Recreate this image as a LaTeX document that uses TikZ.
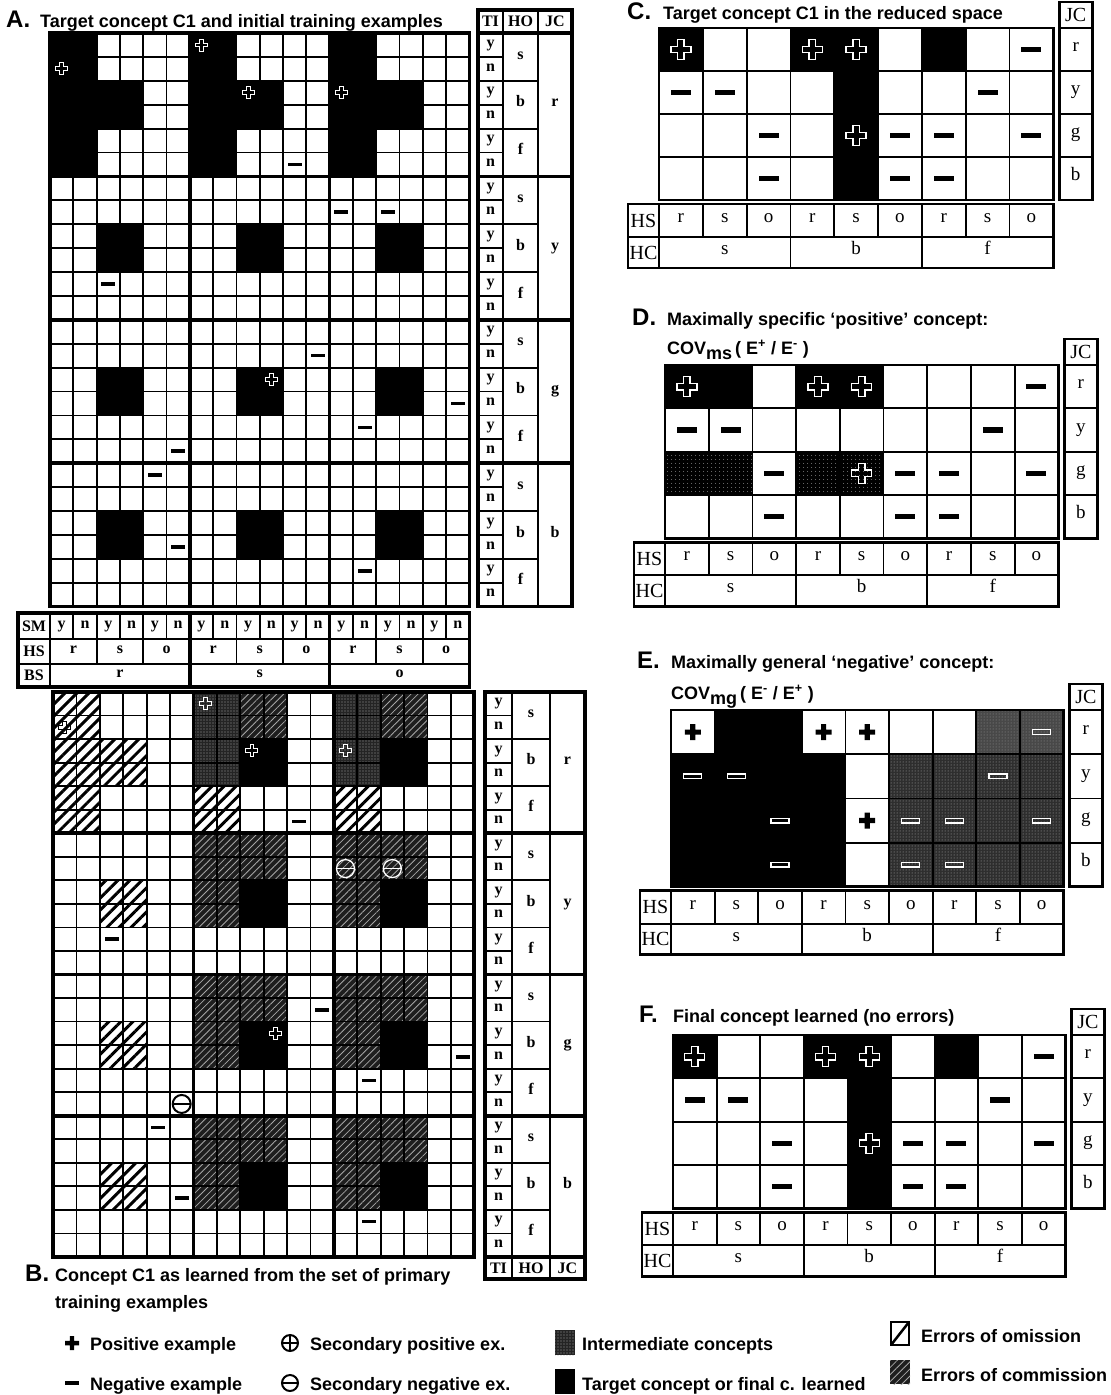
\documentclass[tikz,border=0pt]{standalone}
\usepackage{fontspec}
\setmainfont{Liberation Serif}
\setsansfont{Liberation Sans}
\usepackage{xcolor}
\usetikzlibrary{patterns.meta}
\definecolor{intermgray}{HTML}{242424}
\definecolor{commisgray}{HTML}{1E1E1E}
\definecolor{covgray}{HTML}{2E2E2E}
\definecolor{covlight}{HTML}{484848}

% cells of the current grid (\gridx,\gridy,\cellw,\cellh), image coordinates
\newcommand{\cells}[5]{\path[#1] ({\gridx+(#2-1)*\cellw},{\gridy+(#3-1)*\cellh}) rectangle ++({#4*\cellw},{#5*\cellh});}
\newcommand{\putmark}[4]{\pic[#4] at ({\gridx+(#2-0.5)*\cellw},{\gridy+(#3-0.5)*\cellh}) {#1};}

% 18 x 24 event space grid
\newcommand{\biggrid}{%
  \foreach \i in {1,...,17} \draw[gridline] ({\gridx+\i*\cellw},\gridy) -- ++(0,{24*\cellh});
  \foreach \j in {1,...,23} \draw[gridline] (\gridx,{\gridy+\j*\cellh}) -- ++({18*\cellw},0);
  \foreach \i in {6,12} \draw[blockline] ({\gridx+\i*\cellw},\gridy) -- ++(0,{24*\cellh});
  \foreach \j in {6,12,18} \draw[blockline] (\gridx,{\gridy+\j*\cellh}) -- ++({18*\cellw},0);
  \draw[frameline] (\gridx,\gridy) rectangle ++({18*\cellw},{24*\cellh});
}

% TI / HO / JC columns beside the big grid
\newcommand{\sidecols}[5]{% #1 prefix, #2 TI left, #3 HO left, #4 JC left, #5 right
  \foreach \r in {1,...,23} \draw[gridline] (#2,{\gridy+\r*\cellh}) -- (#3,{\gridy+\r*\cellh});
  \foreach \r in {2,4,...,22} \draw[gridline] (#3,{\gridy+\r*\cellh}) -- (#4,{\gridy+\r*\cellh});
  \foreach \r in {6,12,18} \draw[blockline] (#2,{\gridy+\r*\cellh}) -- (#5,{\gridy+\r*\cellh});
  \draw[gridline] (#3,\gridy) -- ++(0,{24*\cellh}) (#4,\gridy) -- ++(0,{24*\cellh});
  \draw[frameline] (#2,\gridy) rectangle (#5,{\gridy+24*\cellh});
  \foreach \r in {1,3,...,23} \node[lab] (#1ty\r) at ({(#2+#3)/2},{\gridy+(\r-0.5)*\cellh}) {y};
  \foreach \r in {2,4,...,24} \node[lab] (#1tn\r) at ({(#2+#3)/2},{\gridy+(\r-0.5)*\cellh}) {n};
  \foreach \j in {0,...,3} \foreach \h/\hv in {0/s,1/b,2/f}
    \node[lab] (#1ho\j\h) at ({(#3+#4)/2},{\gridy+(6*\j+2*\h+1)*\cellh}) {\hv};
  \foreach \j/\jv in {0/r,1/y,2/g,3/b}
    \node[lab] (#1jc\j) at ({(#4+#5)/2},{\gridy+(6*\j+3)*\cellh}) {\jv};
}

% 9 x 4 reduced space with its JC column and HS / HC rows
\newcommand{\reducedpanel}[5]{% #1 prefix, #2 x0, #3 y0, #4 cell w, #5 cell h
  \foreach \i in {1,...,8} \draw[gridline] ({#2+\i*#4},#3) -- ++(0,{4*#5});
  \foreach \j in {1,2,3} \draw[gridline] (#2,{#3+\j*#5}) -- ++({9*#4},0);
  \draw[panelframe] (#2,#3) rectangle ++({9*#4},{4*#5});
  \draw[panelframe] ({#2+9*#4+6},{#3-26}) rectangle ({#2+9*#4+39},#3);
  \node[rhdr] (#1jch) at ({#2+9*#4+22.5},{#3-13}) {JC};
  \draw[panelframe] ({#2+9*#4+6},#3) rectangle ({#2+9*#4+39},{#3+4*#5});
  \foreach \j in {1,2,3} \draw[gridline] ({#2+9*#4+6},{#3+\j*#5}) -- ++(33,0);
  \foreach \j/\jv in {1/r,2/y,3/g,4/b} \node[rlab] (#1jc\j) at ({#2+9*#4+22.5},{#3+(\j-0.5)*#5}) {\jv};
  \draw[panelframe] ({#2-31},{#3+4*#5+4}) rectangle ({#2+9*#4},{#3+4*#5+68});
  \draw[gridline] ({#2-31},{#3+4*#5+37}) -- ({#2+9*#4},{#3+4*#5+37});
  \draw[gridline] (#2,{#3+4*#5+4}) -- ++(0,64);
  \foreach \i in {1,...,8} \draw[gridline] ({#2+\i*#4},{#3+4*#5+4}) -- ++(0,33);
  \foreach \i in {3,6} \draw[gridline] ({#2+\i*#4},{#3+4*#5+37}) -- ++(0,31);
  \node[rhdr] (#1hs) at ({#2-15.5},{#3+4*#5+20.5}) {HS};
  \node[rhdr] (#1hc) at ({#2-15.5},{#3+4*#5+52.5}) {HC};
  \foreach \i/\sv in {1/r,2/s,3/o,4/r,5/s,6/o,7/r,8/s,9/o}
    \node[rlab] (#1hs\i) at ({#2+(\i-0.5)*#4},{#3+4*#5+20.5}) {\sv};
  \foreach \i/\sv in {1/s,2/b,3/f}
    \node[rlab] (#1hc\i) at ({#2+(3*\i-1.5)*#4},{#3+4*#5+52.5}) {\sv};
}

\begin{document}
\begin{tikzpicture}[
  x=1pt, y=-1pt,
  gridline/.style={draw=black, line width=1.8pt},
  blockline/.style={draw=black, line width=3.6pt},
  frameline/.style={draw=black, line width=3.6pt},
  panelframe/.style={draw=black, line width=2.8pt},
  lab/.style={inner sep=0pt, text height=1.3ex, text depth=0.35ex, font=\bfseries\fontsize{16}{16}\selectfont},
  hdr/.style={inner sep=0pt, font=\bfseries\fontsize{16}{16}\selectfont},
  rlab/.style={inner sep=0pt, text height=1.3ex, text depth=0.35ex, font=\fontsize{19}{19}\selectfont},
  rhdr/.style={inner sep=0pt, font=\fontsize{20}{20}\selectfont},
  ttl/.style={anchor=base west, inner sep=0pt, font=\sffamily\bfseries\fontsize{18}{21}\selectfont},
  ttlletter/.style={anchor=base west, inner sep=0pt, font=\sffamily\bfseries\fontsize{24}{24}\selectfont},
  target/.style={fill=black},
  interm/.style={fill=intermgray, postaction={pattern={Dots[distance=3pt, radius=0.55pt]}, pattern color=gray!75}},
  msdark/.style={fill=black, postaction={pattern={Dots[distance=4pt, radius=0.5pt]}, pattern color=gray!60}},
  commis/.style={fill=commisgray, postaction={pattern={Lines[angle=45, distance=5pt, line width=0.8pt]}, pattern color=gray!70}},
  omiss/.style={fill=white, postaction={pattern={Lines[angle=45, distance=8.5pt, line width=3pt]}, pattern color=black}},
  covdark/.style={fill=covgray, postaction={pattern={Dots[distance=3pt, radius=0.5pt]}, pattern color=gray!60}},
  covpale/.style={fill=covlight, postaction={pattern={Dots[distance=3pt, radius=0.5pt]}, pattern color=gray!80}},
  plusmark/.pic={\path[pic actions] (-0.32,-1) -- (0.32,-1) -- (0.32,-0.32) -- (1,-0.32) -- (1,0.32) -- (0.32,0.32) -- (0.32,1) -- (-0.32,1) -- (-0.32,0.32) -- (-1,0.32) -- (-1,-0.32) -- (-0.32,-0.32) -- cycle;},
  minusmark/.pic={\path[pic actions] (-1,-0.26) rectangle (1,0.26);},
  ominus/.pic={\path[pic actions] (0,0) circle (1); \path[pic actions] (-1,0) -- (1,0);},
  oplus/.pic={\path[pic actions] (0,0) circle (1); \path[pic actions] (-1,0) -- (1,0) (0,-1) -- (0,1);},
  smallplus/.style={draw=white, line width=0.9pt, scale=6},
  hatchplus/.style={draw=black, line width=1pt, scale=6},
  smallminus/.style={fill=black, scale=7},
  bigplus/.style={draw=white, line width=1.3pt, scale=10},
  bigminus/.style={fill=black, scale=10},
  solidplus/.style={fill=black, scale=8},
  hollowminus/.style={draw=white, line width=1.3pt, scale=9},
  wcircminus/.style={draw=white, line width=1.3pt, scale=9},
  bcircminus/.style={draw=black, fill=white, line width=2pt, scale=9}
]
\useasboundingbox (0,0) rectangle (1111,1395);
\fill[white] (0,0) rectangle (1111,1395);

% ---------- A: target concept and initial training examples
\node[ttlletter] (tA) at (6,27) {A.};
\node[ttl] (tAtext) at (40,27) {Target concept C1 and initial training examples};
\def\gridx{50}\def\gridy{33}\def\cellw{23.3}\def\cellh{23.9}
\foreach \b in {0,6,12} {
  \cells{target}{\b+1}{1}{2}{6}
  \foreach \j in {0,6,12,18} {\cells{target}{\b+3}{\j+3}{2}{2}}
}
\biggrid
\foreach \c/\r in {1/2,7/1,9/3,13/3,10/15} {\putmark{plusmark}{\c}{\r}{smallplus}}
\foreach \c/\r in {11/6,13/8,15/8,3/11,12/14,18/16,14/17,6/18,5/19,6/22,14/23}
  {\putmark{minusmark}{\c}{\r}{smallminus}}
% TI HO JC header and columns
\draw[frameline] (478,10) rectangle (572,33);
\draw[gridline] (503,10) -- (503,33) (538,10) -- (538,33);
\node[hdr] (aTI) at (490.5,21.5) {TI};
\node[hdr] (aHO) at (520.5,21.5) {HO};
\node[hdr] (aJC) at (555,21.5) {JC};
\sidecols{a}{478}{503}{538}{572}
% SM HS BS rows
\draw[frameline] (18,613) rectangle ({\gridx+18*\cellw},687);
\draw[gridline] (18,639) -- ({\gridx+18*\cellw},639) (18,664) -- ({\gridx+18*\cellw},664);
\draw[gridline] (\gridx,613) -- (\gridx,687);
\foreach \i in {1,...,17} \draw[gridline] ({\gridx+\i*\cellw},613) -- ++(0,26);
\foreach \i in {2,4,...,16} \draw[gridline] ({\gridx+\i*\cellw},639) -- ++(0,25);
\foreach \i in {6,12} \draw[blockline] ({\gridx+\i*\cellw},613) -- ++(0,74);
\node[hdr] (aSM) at (34,626) {SM};
\node[hdr] (aHS) at (34,651.5) {HS};
\node[hdr] (aBS) at (34,675.5) {BS};
\foreach \i in {1,3,...,17} \node[lab] (sm\i) at ({\gridx+(\i-0.5)*\cellw},626) {y};
\foreach \i in {2,4,...,18} \node[lab] (sm\i) at ({\gridx+(\i-0.5)*\cellw},626) {n};
\foreach \i/\sv in {1/r,2/s,3/o,4/r,5/s,6/o,7/r,8/s,9/o}
  \node[lab] (hs\i) at ({\gridx+(2*\i-1)*\cellw},651.5) {\sv};
\foreach \i/\sv in {1/r,2/s,3/o}
  \node[lab] (bs\i) at ({\gridx+(6*\i-3)*\cellw},675.5) {\sv};

% ---------- B: concept learned from the primary examples
\def\gridx{53}\def\gridy{692}\def\cellw{23.4}\def\cellh{23.54}
\cells{omiss}{1}{1}{2}{6}
\foreach \j in {0,6,12,18} {\cells{omiss}{3}{\j+3}{2}{2}}
\foreach \b in {6,12} {
  \cells{interm}{\b+1}{1}{2}{4}
  \cells{commis}{\b+3}{1}{2}{2}
  \cells{target}{\b+3}{3}{2}{2}
  \cells{omiss}{\b+1}{5}{2}{2}
  \foreach \j in {6,12,18} {
    \cells{commis}{\b+1}{\j+1}{4}{2}
    \cells{commis}{\b+1}{\j+3}{2}{2}
    \cells{target}{\b+3}{\j+3}{2}{2}
  }
}
\biggrid
\putmark{plusmark}{1}{2}{hatchplus}
\foreach \c/\r in {7/1,9/3,13/3,10/15} {\putmark{plusmark}{\c}{\r}{smallplus}}
\foreach \c/\r in {11/6,3/11,12/14,18/16,14/17,5/19,6/22,14/23}
  {\putmark{minusmark}{\c}{\r}{smallminus}}
\foreach \c/\r in {13/8,15/8} {\putmark{ominus}{\c}{\r}{wcircminus}}
\putmark{ominus}{6}{18}{bcircminus}
\sidecols{b}{485}{512}{550}{585}
\draw[frameline] (485,{\gridy+24*\cellh}) rectangle (585,1279);
\draw[gridline] (512,{\gridy+24*\cellh}) -- (512,1279) (550,{\gridy+24*\cellh}) -- (550,1279);
\node[hdr] (bTI) at (498.5,1268) {TI};
\node[hdr] (bHO) at (531,1268) {HO};
\node[hdr] (bJC) at (567.5,1268) {JC};
\node[ttlletter] (tB) at (25,1281) {B.};
\node[ttl] (tBtext) at (55,1281) {Concept C1 as learned from the set of primary};
\node[ttl] (tBtext2) at (55,1308) {training examples};

% ---------- C: target concept in the reduced space
\node[ttlletter] (tC) at (627,19) {C.};
\node[ttl] (tCtext) at (663,19) {Target concept C1 in the reduced space};
\def\gridx{659}\def\gridy{28}\def\cellw{43.8}\def\cellh{43}
\cells{target}{1}{1}{1}{1}
\cells{target}{4}{1}{2}{1}
\cells{target}{5}{2}{1}{3}
\cells{target}{7}{1}{1}{1}
\reducedpanel{c}{659}{28}{43.8}{43}
\foreach \c/\r in {1/1,4/1,5/1,5/3} {\putmark{plusmark}{\c}{\r}{bigplus}}
\foreach \c/\r in {9/1,1/2,2/2,8/2,3/3,6/3,7/3,9/3,3/4,6/4,7/4}
  {\putmark{minusmark}{\c}{\r}{bigminus}}

% ---------- D: maximally specific positive concept
\node[ttlletter] (tD) at (632,325) {D.};
\node[ttl] (tDtext) at (667,325) {Maximally specific ‘positive’ concept:};
\node[ttl] (covD) at (667,354) {COV\raisebox{-5pt}{ms}\,( E\textsuperscript{+} / E\textsuperscript{-} )};
\def\gridx{665}\def\gridy{365}\def\cellw{43.7}\def\cellh{43.3}
\cells{target}{1}{1}{2}{1}
\cells{target}{4}{1}{2}{1}
\cells{msdark}{1}{3}{2}{1}
\cells{msdark}{4}{3}{2}{1}
\reducedpanel{d}{665}{365}{43.7}{43.3}
\foreach \c/\r in {1/1,4/1,5/1,5/3} {\putmark{plusmark}{\c}{\r}{bigplus}}
\foreach \c/\r in {9/1,1/2,2/2,8/2,3/3,6/3,7/3,9/3,3/4,6/4,7/4}
  {\putmark{minusmark}{\c}{\r}{bigminus}}

% ---------- E: maximally general negative concept
\node[ttlletter] (tE) at (637,668) {E.};
\node[ttl] (tEtext) at (671,668) {Maximally general ‘negative’ concept:};
\node[ttl] (covE) at (671,699) {COV\raisebox{-5pt}{mg}\,( E\textsuperscript{-} / E\textsuperscript{+} )};
\def\gridx{671}\def\gridy{710}\def\cellw{43.6}\def\cellh{44.2}
\cells{target}{2}{1}{2}{1}
\cells{target}{1}{2}{4}{3}
\cells{covdark}{6}{2}{4}{3}
\cells{covpale}{8}{1}{2}{1}
\reducedpanel{e}{671}{710}{43.6}{44.2}
\foreach \c/\r in {1/1,4/1,5/1,5/3} {\putmark{plusmark}{\c}{\r}{solidplus}}
\foreach \c/\r in {9/1,1/2,2/2,8/2,3/3,6/3,7/3,9/3,3/4,6/4,7/4}
  {\putmark{minusmark}{\c}{\r}{hollowminus}}

% ---------- F: final concept learned
\node[ttlletter] (tF) at (639,1022) {F.};
\node[ttl] (tFtext) at (673,1022) {Final concept learned (no errors)};
\def\gridx{673}\def\gridy{1035}\def\cellw{43.6}\def\cellh{43.3}
\cells{target}{1}{1}{1}{1}
\cells{target}{4}{1}{2}{1}
\cells{target}{5}{2}{1}{3}
\cells{target}{7}{1}{1}{1}
\reducedpanel{f}{673}{1035}{43.6}{43.3}
\foreach \c/\r in {1/1,4/1,5/1,5/3} {\putmark{plusmark}{\c}{\r}{bigplus}}
\foreach \c/\r in {9/1,1/2,2/2,8/2,3/3,6/3,7/3,9/3,3/4,6/4,7/4}
  {\putmark{minusmark}{\c}{\r}{bigminus}}

% ---------- legend
\pic[fill=black, scale=7] at (72,1343) {plusmark};
\node[ttl] (lgPos) at (90,1350) {Positive example};
\pic[fill=black, scale=7] at (72,1383) {minusmark};
\node[ttl] (lgNeg) at (90,1390) {Negative example};
\pic[draw=black, line width=2pt, scale=8] at (290,1343) {oplus};
\node[ttl] (lgSpos) at (310,1350) {Secondary positive ex.};
\pic[draw=black, line width=2pt, scale=8] at (290,1383) {ominus};
\node[ttl] (lgSneg) at (310,1390) {Secondary negative ex.};
\path[interm] (555,1330) rectangle (575,1355);
\node[ttl] (lgInt) at (582,1350) {Intermediate concepts};
\fill[black] (555,1369) rectangle (575,1394);
\node[ttl] (lgTgt) at (582,1390) {Target concept or final c. learned};
\draw[line width=2pt] (891,1322) rectangle (909,1345);
\draw[line width=2.5pt] (891,1345) -- (909,1322);
\node[ttl] (lgOm) at (921,1342) {Errors of omission};
\path[commis] (890,1360) rectangle (910,1384);
\node[ttl] (lgCom) at (921,1381) {Errors of commission};
\end{tikzpicture}
\end{document}
